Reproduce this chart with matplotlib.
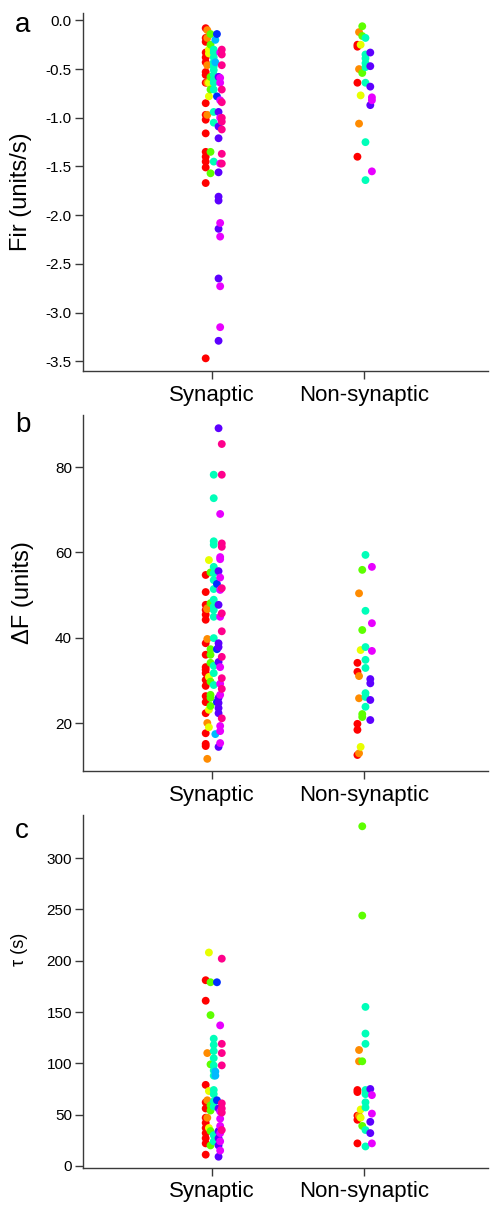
import colorsys
import matplotlib
matplotlib.use("Agg")
import matplotlib.pyplot as plt

plt.rcParams['font.family'] = ['Liberation Sans', 'DejaVu Sans']
plt.rcParams['axes.unicode_minus'] = False

categories = ["Synaptic", "Non-synaptic"]
cells = ["red", "orange", "yellow", "green", "spring", "turquoise", "azure",
         "blue", "violet", "magenta", "rose"]

# ---- panel a: Fir (units/s)
fir_syn = {
    "red": [-0.08, -0.18, -0.22, -0.33, -0.38, -0.43, -0.53, -0.56, -0.64, -0.85, -0.97,
            -1.02, -1.16, -1.35, -1.40, -1.45, -1.51, -1.67, -3.47],
    "orange": [-0.10, -0.18, -0.46, -0.64, -0.97],
    "yellow": [-0.30, -0.34, -0.64, -0.78],
    "green": [-0.14, -0.25, -0.58, -0.71, -1.35, -1.57],
    "turquoise": [-0.30, -0.33, -0.38, -0.43, -0.47, -0.51, -0.56, -0.61, -0.64, -0.71,
                  -0.94, -1.05, -1.45],
    "azure": [-0.20, -0.43],
    "blue": [-0.14, -0.78],
    "violet": [-0.58, -0.94, -1.09, -1.21, -1.56, -1.81, -1.85, -2.14, -2.65, -3.29],
    "magenta": [-0.33, -0.59, -0.64, -0.82, -1.00, -1.47, -2.08, -2.22, -2.73, -3.15],
    "rose": [-0.30, -0.35, -0.46, -0.71, -0.84, -1.00, -1.04, -1.12, -1.37, -1.47],
}
fir_non = {
    "red": [-0.25, -0.27, -0.64, -1.40],
    "orange": [-0.12, -0.50, -1.06],
    "yellow": [-0.25, -0.77],
    "green": [-0.06, -0.16, -0.54],
    "turquoise": [-0.18, -0.35, -0.39, -0.44, -0.48, -0.64, -1.25, -1.64],
    "violet": [-0.33, -0.47, -0.68, -0.87],
    "magenta": [-0.79, -0.82, -1.55],
}

# ---- panel b: dF (units)
df_syn = {
    "red": [54.7, 50.7, 47.7, 46.5, 45.4, 44.2, 38.7, 36.0, 33.1, 32.5, 31.7, 30.1, 28.7,
            26.3, 24.9, 22.3, 17.6, 15.1, 14.6],
    "orange": [46.9, 46.7, 39.7, 20.0, 11.6],
    "yellow": [58.2, 30.8, 23.1, 19.0],
    "green": [55.3, 48.1, 37.3, 36.0, 34.1, 29.7, 26.6, 25.9, 24.0],
    "turquoise": [78.2, 72.7, 62.6, 61.8, 56.6, 55.1, 53.5, 51.4, 48.9, 47.3, 46.5, 44.9,
                  39.9, 33.4, 31.7, 28.9],
    "azure": [17.4],
    "blue": [52.6, 37.3, 24.9],
    "violet": [89.1, 55.6, 47.7, 38.7, 37.8, 34.3, 25.9, 24.7, 23.5, 22.3, 14.4],
    "magenta": [69.0, 58.9, 58.4, 54.1, 51.2, 44.9, 33.1, 29.2, 26.6, 19.3, 18.1, 15.3],
    "rose": [85.4, 78.2, 62.1, 61.3, 51.6, 45.7, 41.5, 35.5, 30.5, 28.0, 21.1],
}
df_non = {
    "red": [34.1, 32.0, 19.8, 18.4, 12.5],
    "orange": [50.4, 31.0, 25.8, 12.9],
    "yellow": [37.1, 14.4],
    "green": [55.9, 41.8, 22.1, 21.4],
    "turquoise": [59.4, 46.3, 37.8, 34.8, 32.9, 27.0, 26.1, 23.8],
    "violet": [30.3, 29.3, 25.4, 20.7],
    "magenta": [56.6, 43.4, 36.9],
}

# ---- panel c: tau (s)
tau_syn = {
    "red": [181, 161, 79, 62, 56, 47, 42, 37, 32, 27, 22, 11],
    "orange": [110, 64, 47],
    "yellow": [208, 73, 37],
    "green": [179, 147, 99, 59, 54, 34, 20],
    "turquoise": [124, 118, 112, 105, 98, 93, 88, 74, 70, 63, 58, 30, 24],
    "azure": [92, 88],
    "blue": [179, 64],
    "violet": [56, 34, 27, 20, 9],
    "magenta": [137, 53, 46, 39, 32, 24, 15],
    "rose": [202, 119, 110, 98, 61, 56, 52, 35],
}
tau_non = {
    "red": [74, 72, 49, 45, 22],
    "orange": [113, 102, 49],
    "yellow": [55, 47],
    "green": [331, 244, 102, 39],
    "turquoise": [155, 129, 119, 74, 70, 62, 57, 35, 19],
    "violet": [75, 43, 32],
    "magenta": [69, 51, 22],
}

a_ticks = [0.0, -0.5, -1.0, -1.5, -2.0, -2.5, -3.0, -3.5]
a_ticklabels = ["0.0", "-0.5", "-1.0", "-1.5", "-2.0", "-2.5", "-3.0", "-3.5"]
b_ticks = [20, 40, 60, 80]
c_ticks = [0, 50, 100, 150, 200, 250, 300]

colors = {name: colorsys.hsv_to_rgb(i / 11.0, 1.0, 1.0) for i, name in enumerate(cells)}
offsets = {name: (i - 4.1) * 0.0106 for i, name in enumerate(cells)}

fig = plt.figure(figsize=(4.91, 12.06), dpi=100)
W, H = 491.0, 1206.0
left, right = 83 / W, 488 / W
boxes = [(13, 371), (415, 771), (815, 1168)]
axes = []
for top, bot in boxes:
    axes.append(fig.add_axes([left, 1 - bot / H, right - left, (bot - top) / H]))

spine_col = "#3a3a3a"

def draw(ax, groups, ylim, ticks, ticklabels, ylabel, lab_x, lab_y=0.5, lab_size=17,
         xpad=4.0):
    for xi, g in enumerate(groups):
        for name in cells:
            if name in g:
                vals = g[name]
                ax.scatter([xi + offsets[name]] * len(vals), vals, s=32,
                           color=colors[name], edgecolors="none", zorder=3)
    ax.set_xlim(-0.852, 1.817)
    ax.set_ylim(*ylim)
    ax.set_xticks([0, 1])
    ax.set_xticklabels(categories, fontsize=16)
    ax.set_yticks(ticks)
    ax.set_yticklabels(ticklabels, fontsize=11)
    for s in ["top", "right"]:
        ax.spines[s].set_visible(False)
    for s in ["left", "bottom"]:
        ax.spines[s].set_color(spine_col)
        ax.spines[s].set_linewidth(1.0)
    ax.tick_params(axis="y", direction="out", length=6, width=1.0, color=spine_col, pad=2)
    ax.tick_params(axis="x", direction="out", length=6, width=1.0, color=spine_col, pad=xpad)
    ax.set_ylabel(ylabel, fontsize=lab_size)
    ax.yaxis.set_label_coords(lab_x, lab_y)

draw(axes[0], [fir_syn, fir_non], (-3.6, 0.076), a_ticks, a_ticklabels,
     "Fir (units/s)", -0.125)
draw(axes[1], [df_syn, df_non], (8.75, 92.2), b_ticks, [str(t) for t in b_ticks],
     "ΔF (units)", -0.12)
draw(axes[2], [tau_syn, tau_non], (-2, 342), c_ticks, [str(t) for t in c_ticks],
     "τ (s)", -0.135, 0.62, 13, xpad=3.0)

for lab, yb in zip(["a", "b", "c"], [32, 432, 838]):
    fig.text(15 / W, 1 - yb / H, lab, fontsize=20, ha="left", va="baseline")

fig.savefig("out.png", dpi=100)
